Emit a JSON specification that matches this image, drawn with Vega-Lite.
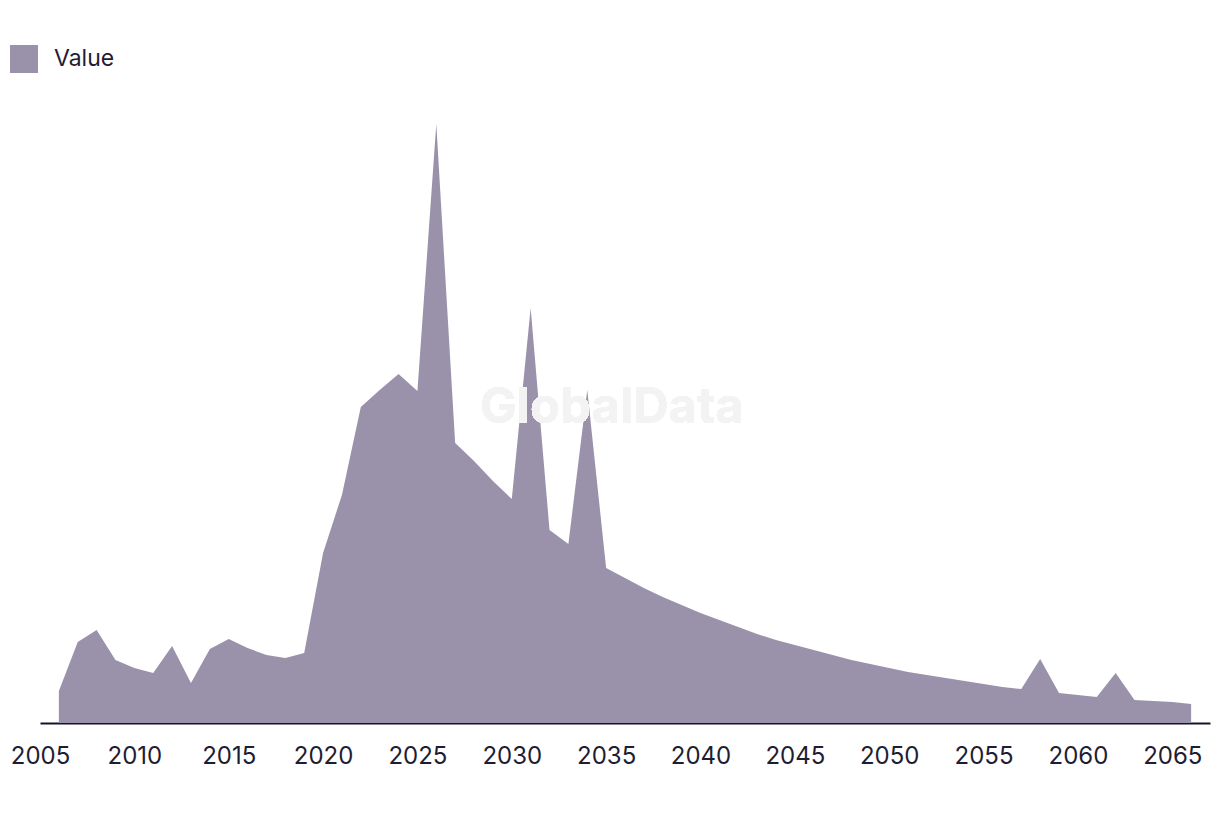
{
  "$schema": "https://vega.github.io/schema/vega-lite/v6.json",
  "width": 1170,
  "height": 623,
  "autosize": {"type": "none"},
  "padding": {"left": 40, "top": 100, "right": 10, "bottom": 93},
  "background": "#ffffff",
  "config": {"view": {"stroke": null}, "font": "Inter"},
  "data": {
    "values": [
      {"year": 2006, "value": 32}, {"year": 2007, "value": 81}, {"year": 2008, "value": 93},
      {"year": 2009, "value": 63}, {"year": 2010, "value": 55}, {"year": 2011, "value": 50},
      {"year": 2012, "value": 77}, {"year": 2013, "value": 40}, {"year": 2014, "value": 74},
      {"year": 2015, "value": 84}, {"year": 2016, "value": 75}, {"year": 2017, "value": 68},
      {"year": 2018, "value": 65}, {"year": 2019, "value": 70}, {"year": 2020, "value": 170},
      {"year": 2021, "value": 228}, {"year": 2022, "value": 316}, {"year": 2023, "value": 333},
      {"year": 2024, "value": 349}, {"year": 2025, "value": 332}, {"year": 2026, "value": 599},
      {"year": 2027, "value": 280}, {"year": 2028, "value": 262}, {"year": 2029, "value": 242},
      {"year": 2030, "value": 224}, {"year": 2031, "value": 415}, {"year": 2032, "value": 193},
      {"year": 2033, "value": 179}, {"year": 2034, "value": 333}, {"year": 2035, "value": 155},
      {"year": 2036, "value": 145}, {"year": 2037, "value": 135}, {"year": 2038, "value": 126},
      {"year": 2039, "value": 118}, {"year": 2040, "value": 110}, {"year": 2041, "value": 103},
      {"year": 2042, "value": 96}, {"year": 2043, "value": 89}, {"year": 2044, "value": 83},
      {"year": 2045, "value": 78}, {"year": 2046, "value": 73}, {"year": 2047, "value": 68},
      {"year": 2048, "value": 63}, {"year": 2049, "value": 59}, {"year": 2050, "value": 55},
      {"year": 2051, "value": 51}, {"year": 2052, "value": 48}, {"year": 2053, "value": 45},
      {"year": 2054, "value": 42}, {"year": 2055, "value": 39}, {"year": 2056, "value": 36},
      {"year": 2057, "value": 34}, {"year": 2058, "value": 64}, {"year": 2059, "value": 30},
      {"year": 2060, "value": 28}, {"year": 2061, "value": 26}, {"year": 2062, "value": 50},
      {"year": 2063, "value": 23}, {"year": 2064, "value": 22}, {"year": 2065, "value": 21},
      {"year": 2066, "value": 19}
    ]
  },
  "layer": [
    {
      "mark": {"type": "area", "interpolate": "linear"},
      "encoding": {
        "x": {
          "field": "year", "type": "quantitative",
          "scale": {"domain": [2005, 2067], "nice": false, "zero": false},
          "axis": {
            "title": null, "values": [2005, 2010, 2015, 2020, 2025, 2030, 2035, 2040, 2045, 2050, 2055, 2060, 2065],
            "format": "d", "grid": false, "ticks": false,
            "domainColor": "#14132a", "domainWidth": 2,
            "labelFontSize": 24, "labelColor": "#1f1d33", "labelPadding": 21,
            "labelFont": "Inter", "labelFlush": false, "labelOverlap": false
          }
        },
        "y": {
          "field": "value", "type": "quantitative",
          "scale": {"domain": [0, 623], "nice": false},
          "axis": null
        },
        "color": {
          "datum": "Value",
          "type": "nominal",
          "scale": {"range": ["#9a92ab"]},
          "legend": {
            "title": null, "orient": "none", "legendX": -30, "legendY": -55,
            "symbolType": "square", "symbolSize": 784, "symbolStrokeWidth": 0,
            "labelFontSize": 23, "labelColor": "#1f1d33", "labelFont": "Inter",
            "labelOffset": 16
          }
        },
        "fillOpacity": {"value": 1}
      }
    },
    {
      "mark": {"type": "text", "font": "Inter", "fontWeight": "bold", "fontSize": 49, "color": "#f3f3f3", "align": "center", "baseline": "middle"},
      "encoding": {
        "x": {"datum": 2035.3, "type": "quantitative"},
        "y": {"datum": 315, "type": "quantitative"},
        "text": {"value": "GlobalData"}
      }
    }
  ]
}
